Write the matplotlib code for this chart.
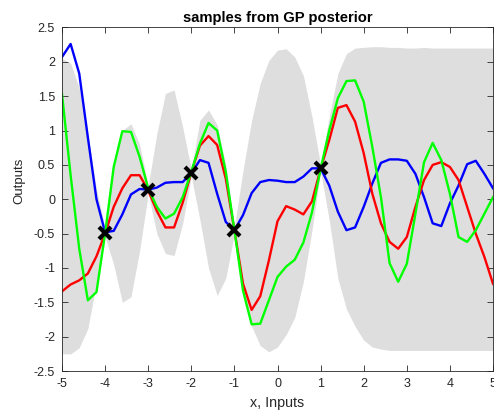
import numpy as np
import matplotlib
matplotlib.use('Agg')
import matplotlib.pyplot as plt

plt.rcParams['font.family'] = ['Liberation Sans', 'DejaVu Sans']
plt.rcParams['axes.unicode_minus'] = False

# input grid (step 0.2)
x_grid = np.round(np.arange(-5.0, 5.0001, 0.2), 2)

# training points
x_train = [-4, -3, -2, -1, 1]
y_train = [-0.49, 0.14, 0.38, -0.45, 0.45]

# posterior band (mean +/- 2 sd)
band_upper = [2.05, 1.98, 1.62, 0.95, 0.15, -0.42, 0.55, 1.0, 1.1, 0.8,
              0.2, 0.95, 1.54, 1.59, 1.05, 0.43, 1.15, 1.3, 1.08, 0.5,
              -0.4, 0.42, 1.15, 1.69, 2.02, 2.17, 2.19, 2.07, 1.8, 1.2,
              0.5, 1.2, 1.83, 2.12, 2.2, 2.21, 2.22, 2.22, 2.21, 2.21,
              2.2, 2.2, 2.21, 2.2, 2.2, 2.2, 2.2, 2.2, 2.2, 2.2, 2.2]
band_lower = [-2.25, -2.25, -2.16, -1.88, -1.22, -0.55, -0.95, -1.5, -1.42, -0.75,
              0.08, -0.5, -0.79, -0.82, -0.35, 0.33, -0.3, -1.0, -1.4, -1.15,
              -0.5, -1.37, -1.85, -2.13, -2.22, -2.15, -1.97, -1.72, -1.2, -0.45,
              0.4, -0.3, -1.15, -1.6, -1.85, -2.05, -2.15, -2.18, -2.2, -2.2,
              -2.2, -2.2, -2.2, -2.2, -2.2, -2.2, -2.2, -2.2, -2.2, -2.2, -2.2]

# three posterior samples
sample_blue = [2.07, 2.26, 1.83, 0.9, 0.0, -0.48, -0.46, -0.22, 0.07, 0.15,
               0.14, 0.17, 0.24, 0.25, 0.25, 0.38, 0.57, 0.53, 0.08, -0.33,
               -0.45, -0.23, 0.09, 0.25, 0.28, 0.27, 0.25, 0.25, 0.33, 0.45,
               0.45, 0.20, -0.18, -0.45, -0.41, -0.11, 0.23, 0.53, 0.58, 0.58,
               0.56, 0.37, 0.03, -0.35, -0.39, -0.06, 0.20, 0.51, 0.56, 0.37, 0.16]
sample_red = [-1.34, -1.24, -1.18, -1.08, -0.83, -0.50, -0.11, 0.16, 0.35, 0.35,
              0.13, -0.17, -0.41, -0.41, -0.05, 0.39, 0.78, 0.92, 0.79, 0.30,
              -0.45, -1.23, -1.61, -1.41, -0.89, -0.32, -0.10, -0.15, -0.22, -0.03,
              0.44, 0.86, 1.33, 1.37, 1.13, 0.67, 0.08, -0.35, -0.62, -0.72,
              -0.55, -0.11, 0.28, 0.50, 0.54, 0.47, 0.28, -0.11, -0.50, -0.84, -1.23]
sample_green = [1.53, 0.35, -0.72, -1.47, -1.35, -0.50, 0.47, 0.99, 0.98, 0.62,
                0.16, -0.11, -0.28, -0.21, 0.03, 0.40, 0.81, 1.11, 1.0, 0.40,
                -0.45, -1.33, -1.82, -1.81, -1.47, -1.13, -0.98, -0.88, -0.63, -0.19,
                0.44, 1.0, 1.47, 1.72, 1.73, 1.42, 0.76, 0.03, -0.93, -1.2,
                -0.94, -0.21, 0.54, 0.82, 0.57, 0.08, -0.55, -0.62, -0.45, -0.21, 0.03]

x_ticks = list(range(-5, 6))
y_ticks = [-2.5, -2, -1.5, -1, -0.5, 0, 0.5, 1, 1.5, 2, 2.5]
y_tick_labels = ['-2.5', '-2', '-1.5', '-1', '-0.5', '0', '0.5', '1', '1.5', '2', '2.5']

fig = plt.figure(figsize=(4.94, 4.16), dpi=100)
ax = fig.add_axes([0.1255, 0.108, 0.8725, 0.826])

ax.fill_between(x_grid, band_lower, band_upper, color='#dedede', linewidth=0)
ax.plot(x_grid, sample_blue, color='#0000ff', linewidth=1.7)
ax.plot(x_grid, sample_red, color='#ff0000', linewidth=1.7)
ax.plot(x_grid, sample_green, color='#00ff00', linewidth=1.7)
ax.plot(x_train, y_train, 'x', color='k', markersize=8, markeredgewidth=3)

ax.set_xlim(-5, 5)
ax.set_ylim(-2.5, 2.5)
ax.set_xticks(x_ticks)
ax.set_xticklabels([str(t) for t in x_ticks])
ax.set_yticks(y_ticks)
ax.set_yticklabels(y_tick_labels)
ax.tick_params(direction='in', top=True, right=True, length=4, width=0.6,
               labelsize=9, colors='#262626', pad=5)
for side in ax.spines.values():
    side.set_color('#262626')
    side.set_linewidth(0.6)

ax.set_title('samples from GP posterior', fontsize=10.6, fontweight='bold', pad=4)
ax.set_xlabel('x, Inputs', fontsize=10.3, color='#262626', labelpad=4)
ax.set_ylabel('Outputs', fontsize=9.5, color='#262626')
ax.yaxis.set_label_coords(-0.085, 0.554)

fig.savefig('out.png', dpi=100)
